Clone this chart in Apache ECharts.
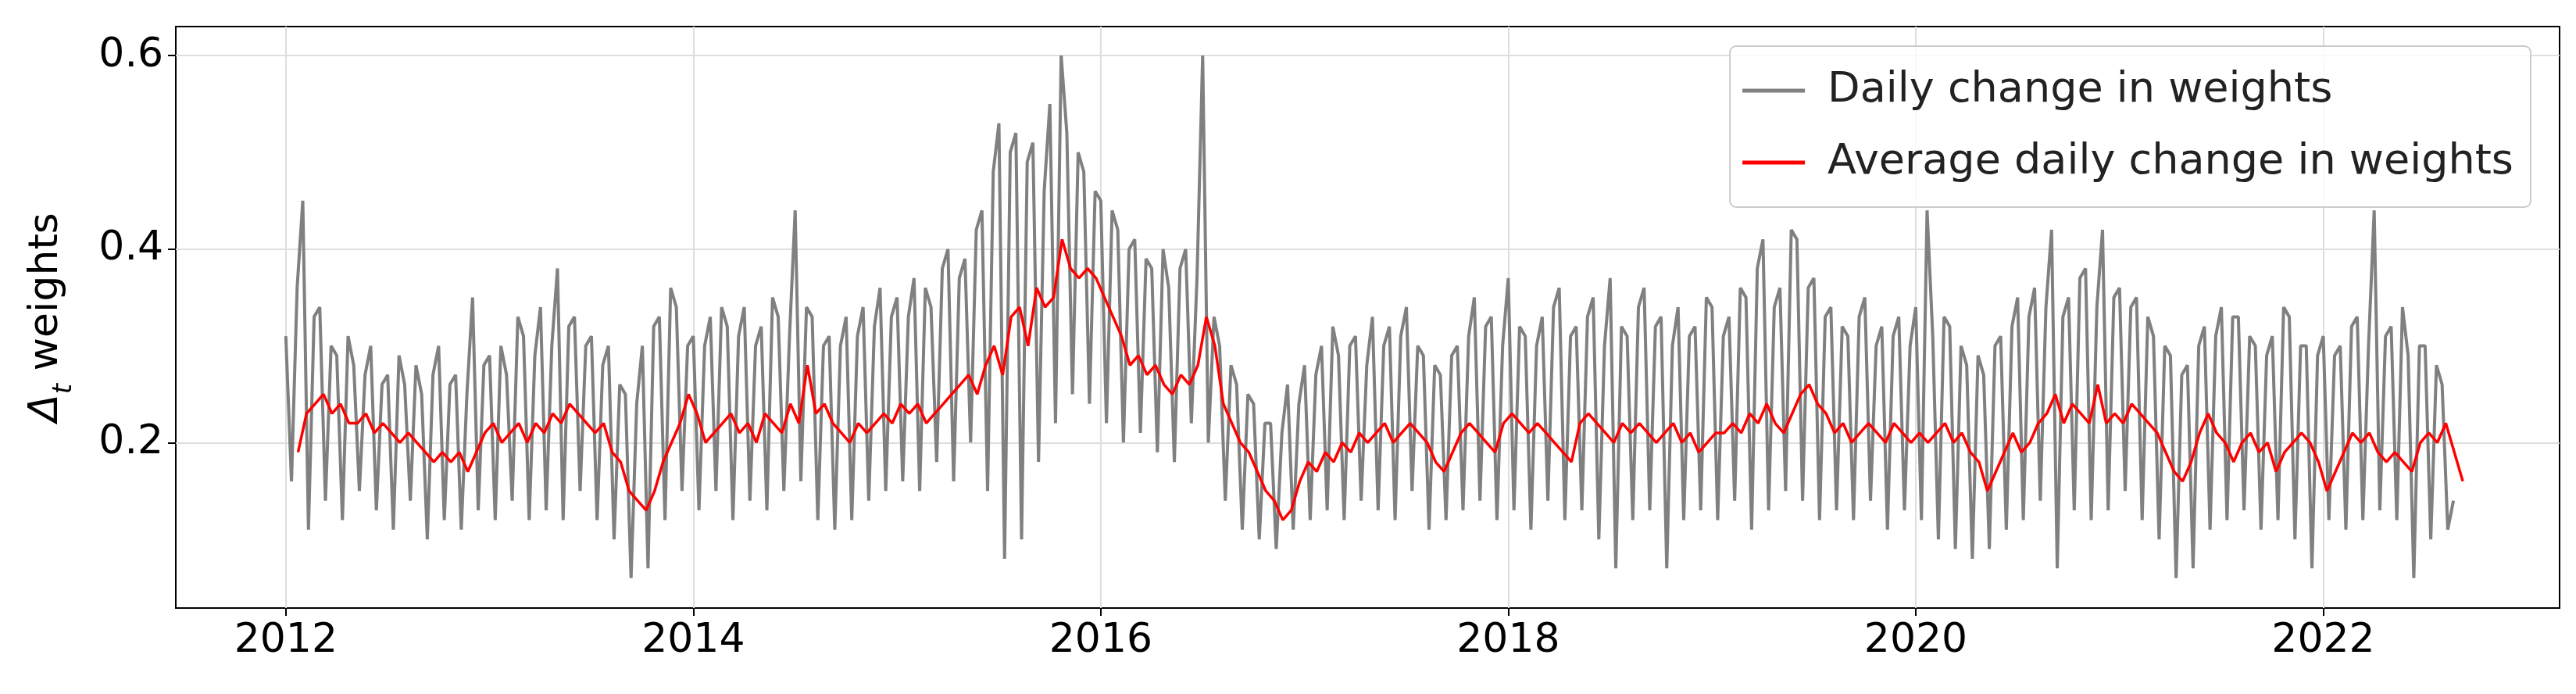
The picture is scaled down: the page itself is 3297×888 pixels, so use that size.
<!DOCTYPE html>
<html>
<head>
<meta charset="utf-8">
<script src="https://cdn.jsdelivr.net/npm/echarts@6/dist/echarts.min.js"></script>
<style>html,body{margin:0;padding:0;background:#fff}#chart{width:3297px;height:888px}</style>
</head>
<body>
<div id="chart"></div>
<script>
// daily change, three readings per month starting Jan 2012
const dailyChange = [
  0.31,0.16,0.36, 0.45,0.11,0.33, 0.34,0.14,0.30, 0.29,0.12,0.31, 0.28,0.15,0.27, 0.30,0.13,0.26, 0.27,0.11,0.29, 0.26,0.14,0.28, 0.25,0.10,0.27, 0.30,0.12,0.26, 0.27,0.11,0.25, 0.35,0.13,0.28,
  0.29,0.12,0.30, 0.27,0.14,0.33, 0.31,0.12,0.29, 0.34,0.13,0.30, 0.38,0.12,0.32, 0.33,0.15,0.30, 0.31,0.12,0.28, 0.30,0.10,0.26, 0.25,0.06,0.24, 0.30,0.07,0.32, 0.33,0.12,0.36, 0.34,0.15,0.30,
  0.31,0.13,0.30, 0.33,0.15,0.34, 0.32,0.12,0.31, 0.34,0.14,0.30, 0.32,0.13,0.35, 0.33,0.15,0.31, 0.44,0.16,0.34, 0.33,0.12,0.30, 0.31,0.11,0.30, 0.33,0.12,0.31, 0.34,0.14,0.32, 0.36,0.15,0.33,
  0.35,0.16,0.33, 0.37,0.15,0.36, 0.34,0.18,0.38, 0.40,0.16,0.37, 0.39,0.20,0.42, 0.44,0.15,0.48, 0.53,0.08,0.50, 0.52,0.10,0.49, 0.51,0.18,0.46, 0.55,0.22,0.60, 0.52,0.25,0.50, 0.48,0.24,0.46,
  0.45,0.22,0.44, 0.42,0.20,0.40, 0.41,0.21,0.39, 0.38,0.19,0.40, 0.36,0.18,0.38, 0.40,0.22,0.37, 0.60,0.20,0.33, 0.30,0.14,0.28, 0.26,0.11,0.25, 0.24,0.10,0.22, 0.22,0.09,0.21, 0.26,0.11,0.24,
  0.28,0.12,0.27, 0.30,0.13,0.32, 0.29,0.12,0.30, 0.31,0.14,0.28, 0.33,0.13,0.30, 0.32,0.12,0.31, 0.34,0.15,0.30, 0.29,0.11,0.28, 0.27,0.12,0.29, 0.30,0.13,0.31, 0.35,0.14,0.32, 0.33,0.12,0.30,
  0.37,0.13,0.32, 0.31,0.11,0.30, 0.33,0.14,0.34, 0.36,0.12,0.31, 0.32,0.13,0.33, 0.35,0.10,0.30, 0.37,0.07,0.32, 0.31,0.12,0.34, 0.36,0.13,0.32, 0.33,0.07,0.30, 0.34,0.12,0.31, 0.32,0.13,0.35,
  0.34,0.12,0.31, 0.33,0.14,0.36, 0.35,0.11,0.38, 0.41,0.13,0.34, 0.36,0.15,0.42, 0.41,0.14,0.36, 0.37,0.12,0.33, 0.34,0.13,0.32, 0.31,0.12,0.33, 0.35,0.14,0.30, 0.32,0.11,0.31, 0.33,0.13,0.30,
  0.34,0.12,0.44, 0.31,0.10,0.33, 0.32,0.09,0.30, 0.28,0.08,0.29, 0.27,0.09,0.30, 0.31,0.11,0.32, 0.35,0.12,0.33, 0.36,0.14,0.34, 0.42,0.07,0.33, 0.35,0.13,0.37, 0.38,0.12,0.34, 0.42,0.13,0.35,
  0.36,0.15,0.34, 0.35,0.12,0.33, 0.31,0.10,0.30, 0.29,0.06,0.27, 0.28,0.07,0.30, 0.32,0.11,0.31, 0.34,0.12,0.33, 0.33,0.13,0.31, 0.30,0.11,0.29, 0.31,0.12,0.34, 0.33,0.10,0.30, 0.30,0.07,0.29,
  0.31,0.12,0.29, 0.30,0.11,0.32, 0.33,0.12,0.30, 0.44,0.13,0.31, 0.32,0.12,0.34, 0.29,0.06,0.30, 0.30,0.10,0.28, 0.26,0.11,0.14
];
// average daily change, two readings per month starting Jan 2012
const avgChange = [
  0.19,0.23,0.24,0.25,0.23,0.24,0.22,0.22,0.23,0.21,0.22,0.21,0.20,0.21,0.20,0.19,0.18,0.19,0.18,0.19,0.17,0.19,0.21,0.22,
  0.20,0.21,0.22,0.20,0.22,0.21,0.23,0.22,0.24,0.23,0.22,0.21,0.22,0.19,0.18,0.15,0.14,0.13,0.15,0.18,0.20,0.22,0.25,0.23,
  0.20,0.21,0.22,0.23,0.21,0.22,0.20,0.23,0.22,0.21,0.24,0.22,0.28,0.23,0.24,0.22,0.21,0.20,0.22,0.21,0.22,0.23,0.22,0.24,
  0.23,0.24,0.22,0.23,0.24,0.25,0.26,0.27,0.25,0.28,0.30,0.27,0.33,0.34,0.30,0.36,0.34,0.35,0.41,0.38,0.37,0.38,0.37,0.35,
  0.33,0.31,0.28,0.29,0.27,0.28,0.26,0.25,0.27,0.26,0.28,0.33,0.30,0.24,0.22,0.20,0.19,0.17,0.15,0.14,0.12,0.13,0.16,0.18,
  0.17,0.19,0.18,0.20,0.19,0.21,0.20,0.21,0.22,0.20,0.21,0.22,0.21,0.20,0.18,0.17,0.19,0.21,0.22,0.21,0.20,0.19,0.22,0.23,
  0.22,0.21,0.22,0.21,0.20,0.19,0.18,0.22,0.23,0.22,0.21,0.20,0.22,0.21,0.22,0.21,0.20,0.21,0.22,0.20,0.21,0.19,0.20,0.21,
  0.21,0.22,0.21,0.23,0.22,0.24,0.22,0.21,0.23,0.25,0.26,0.24,0.23,0.21,0.22,0.20,0.21,0.22,0.21,0.20,0.22,0.21,0.20,0.21,
  0.20,0.21,0.22,0.20,0.21,0.19,0.18,0.15,0.17,0.19,0.21,0.19,0.20,0.22,0.23,0.25,0.22,0.24,0.23,0.22,0.26,0.22,0.23,0.22,
  0.24,0.23,0.22,0.21,0.19,0.17,0.16,0.18,0.21,0.23,0.21,0.20,0.18,0.20,0.21,0.19,0.20,0.17,0.19,0.20,0.21,0.20,0.18,0.15,
  0.17,0.19,0.21,0.20,0.21,0.19,0.18,0.19,0.18,0.17,0.20,0.21,0.20,0.22,0.19,0.16
];
const yearTicks = [2012, 2014, 2016, 2018, 2020, 2022];
const yTicks = [0.2, 0.4, 0.6];

const dailyPts = dailyChange.map((v, i) => [2012 + i / 36, v]);
const avgPts = avgChange.map((v, i) => [2012.06 + i / 24, v]);

const chart = echarts.init(document.getElementById('chart'));
const font = 'DejaVu Sans';
chart.setOption({
  animation: false,
  textStyle: { fontFamily: font },
  grid: { left: 225, right: 21, top: 34, bottom: 110, show: true, borderColor: '#000', borderWidth: 2 },
  legend: {
    right: 58, top: 59, orient: 'vertical', itemWidth: 80, itemHeight: 5, itemGap: 38,
    padding: [30, 22, 30, 16], borderColor: '#ccc', borderWidth: 2, borderRadius: 8, backgroundColor: 'rgba(255,255,255,0.8)',
    textStyle: { fontSize: 54, color: '#222', fontFamily: font, padding: [0, 0, 0, 24] },
    icon: 'rect',
    data: ['Daily change in weights', 'Average daily change in weights']
  },
  xAxis: {
    type: 'value', min: 2011.46, max: 2023.16,
    axisLine: { show: false },
    axisTick: { show: true, length: 10, lineStyle: { color: '#000', width: 2 }, customValues: yearTicks },
    axisLabel: { fontSize: 52, color: '#000', margin: 16, customValues: yearTicks, formatter: v => String(v) },
    splitLine: { show: true, lineStyle: { color: '#dedede', width: 2 } }
  },
  yAxis: {
    type: 'value', min: 0.029, max: 0.63,
    name: '{d|Δ}{t|t} weights', nameLocation: 'middle', nameGap: 140,
    nameTextStyle: { fontSize: 52, color: '#000', rich: { d: { fontSize: 52, fontStyle: 'italic', color: '#000' }, t: { fontSize: 34, fontStyle: 'italic', color: '#000', verticalAlign: 'bottom', padding: [0, 0, -14, 0] } } },
    axisLine: { show: false },
    axisTick: { show: true, length: 10, lineStyle: { color: '#000', width: 2 }, customValues: yTicks },
    axisLabel: { fontSize: 52, color: '#000', margin: 16, customValues: yTicks, formatter: v => v.toFixed(1) },
    splitLine: { show: true, lineStyle: { color: '#dedede', width: 2 } }
  },
  series: [
    { name: 'Daily change in weights', type: 'line', data: dailyPts, showSymbol: false, color: '#808080', lineStyle: { width: 4, color: '#808080' } },
    { name: 'Average daily change in weights', type: 'line', data: avgPts, showSymbol: false, color: '#ff0000', lineStyle: { width: 3.5, color: '#ff0000' } }
  ]
});
</script>
</body>
</html>
